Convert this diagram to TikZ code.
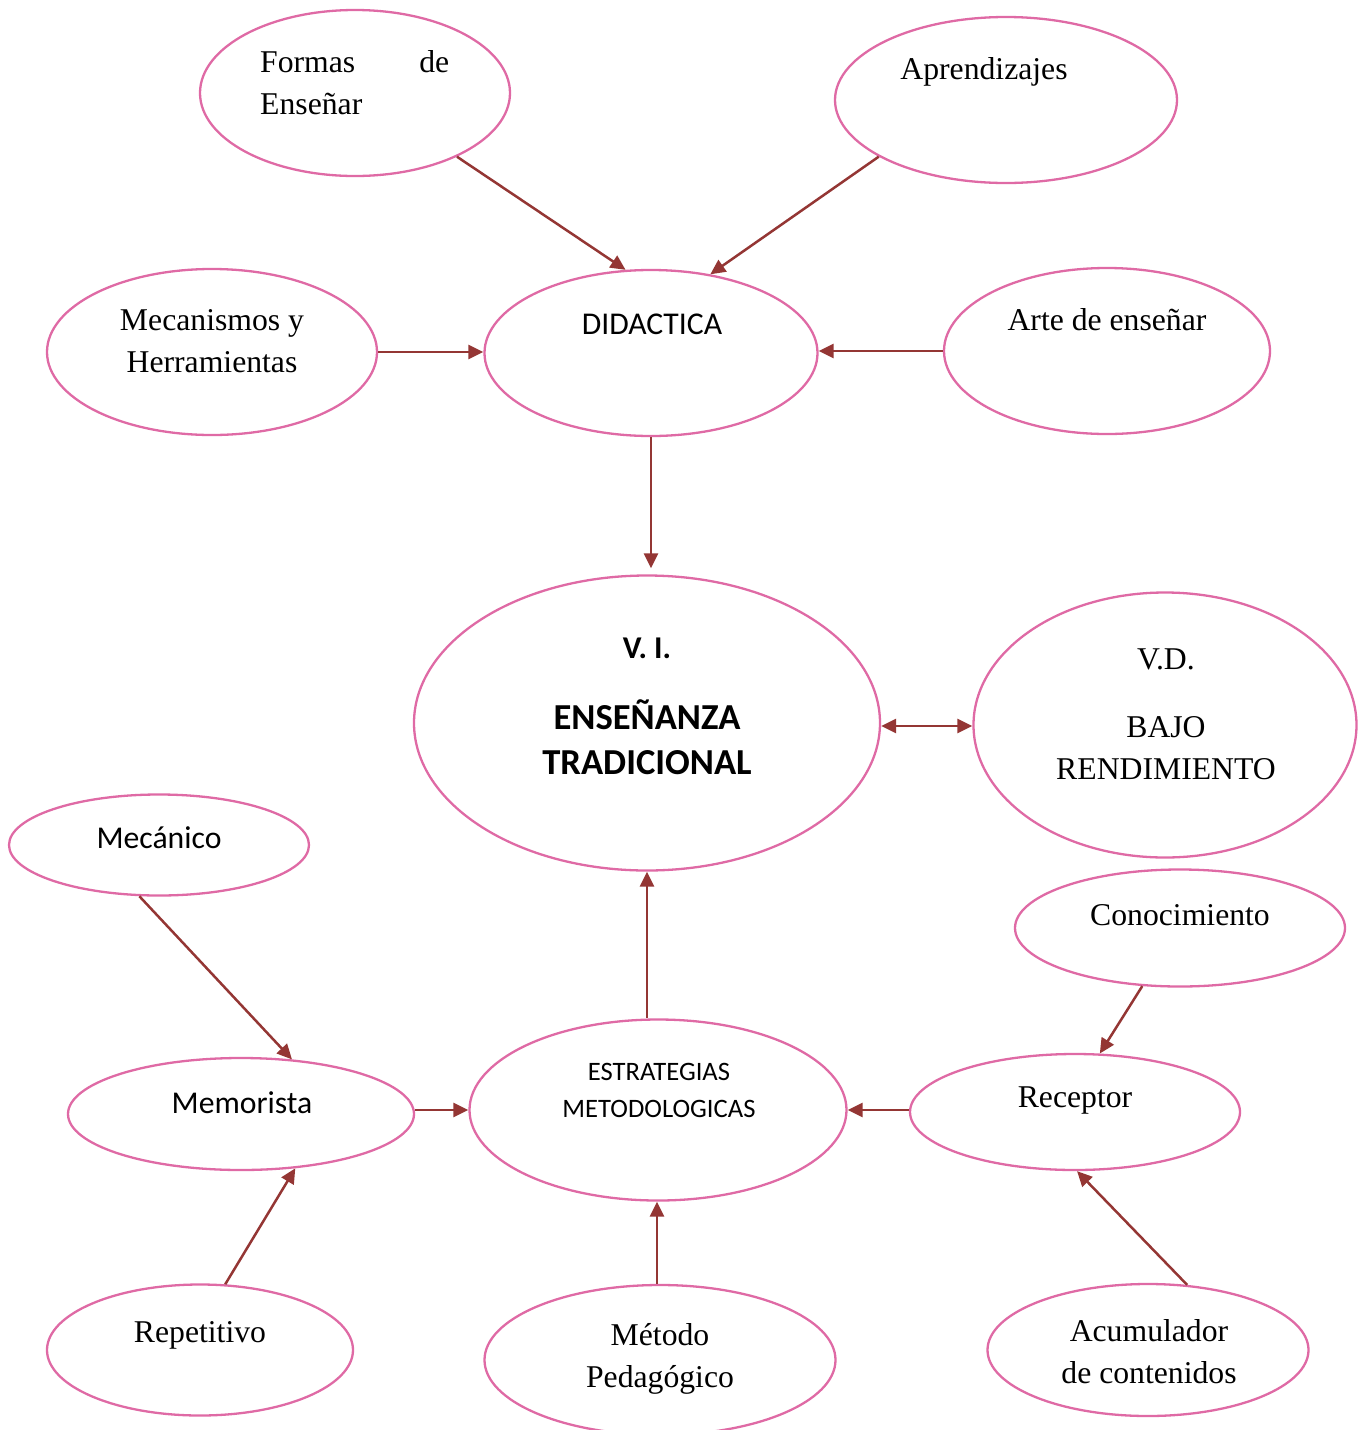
\documentclass[tikz,border=0pt]{standalone}
\usepackage{fontspec}
\setmainfont{Liberation Serif}
\newfontfamily\calfont{Carlito}
\usetikzlibrary{shapes.geometric,arrows.meta}
\definecolor{pinkline}{HTML}{DF6AA5}
\definecolor{arrowred}{HTML}{943634}
\begin{document}
\begin{tikzpicture}[x=1pt,y=-1pt,
  bub/.style={ellipse,draw=pinkline,line width=2.3pt,inner sep=0pt},
  con/.style={draw=arrowred,line width=2.5pt,-{Triangle[length=15pt,width=14pt]}},
  tx/.style={font=\fontsize{31.7}{42}\selectfont,align=center,inner sep=0pt},
  cx/.style={font=\calfont\fontsize{31.7}{42}\selectfont,align=center,inner sep=0pt}]
\useasboundingbox (0,0) rectangle (1368,1430);
\clip (0,0) rectangle (1368,1430);
% ellipses
\node[bub,minimum width=310pt,minimum height=166pt] (formas) at (355,93) {};
\node[bub,minimum width=342pt,minimum height=166pt] (aprend) at (1006,100) {};
\node[bub,minimum width=330pt,minimum height=166pt] (mecan) at (212,352) {};
\node[bub,minimum width=333pt,minimum height=166pt] (didac) at (651,353) {};
\node[bub,minimum width=326pt,minimum height=166pt] (arte) at (1107,351) {};
\node[bub,minimum width=466pt,minimum height=295pt] (vi) at (647,723) {};
\node[bub,minimum width=383pt,minimum height=265pt] (vd) at (1165,725) {};
\node[bub,minimum width=300pt,minimum height=101pt] (mecanico) at (159,845) {};
\node[bub,minimum width=330pt,minimum height=117pt] (conoc) at (1180,928) {};
\node[bub,minimum width=346pt,minimum height=112pt] (memor) at (241,1114) {};
\node[bub,minimum width=377pt,minimum height=181pt] (estrat) at (658,1110) {};
\node[bub,minimum width=330pt,minimum height=116pt] (recep) at (1075,1112) {};
\node[bub,minimum width=306pt,minimum height=131pt] (repet) at (200,1350) {};
\node[bub,minimum width=351pt,minimum height=150pt] (metodo) at (660,1360) {};
\node[bub,minimum width=321pt,minimum height=132pt] (acum) at (1148,1350) {};
% texts
\node[tx,align=left,anchor=north west] (formas-t) at (260,50) {\makebox[189pt][s]{Formas\hfill de}\\Enseñar};
\node[tx] (aprend-t) at (984,72) {Aprendizajes};
\node[tx] (mecan-t) at (212,341) {Mecanismos y\\Herramientas};
\node[cx] (didac-t) at (652,324) {DIDACTICA};
\node[tx] (arte-t) at (1107,320) {Arte de enseñar};
\node[cx,font=\calfont\bfseries\fontsize{31.7}{42}\selectfont] (vi-t1) at (647,648) {V. I.};
\node[cx,font=\calfont\bfseries\fontsize{36.6}{45}\selectfont] (vi-t2) at (647,737) {ENSEÑANZA\\TRADICIONAL};
\node[tx] (vd-t1) at (1166,659) {V.D.};
\node[tx] (vd-t2) at (1166,748) {BAJO\\RENDIMIENTO};
\node[cx] (mecanico-t) at (159,838) {Mecánico};
\node[tx] (conoc-t) at (1180,915) {Conocimiento};
\node[cx] (memor-t) at (242,1103) {Memorista};
\node[cx,font=\calfont\fontsize{26.6}{37}\selectfont] (estrat-t) at (659,1090) {ESTRATEGIAS\\METODOLOGICAS};
\node[tx] (recep-t) at (1075,1100) {Receptor};
\node[tx] (repet-t) at (200,1335) {Repetitivo};
\node[tx] (metodo-t) at (660,1359) {Método\\Pedagógico};
\node[tx] (acum-t) at (1149,1352) {Acumulador\\de contenidos};
% connectors
\draw[con] (formas.-32.6) -- (didac.107);
\draw[con] (aprend.204.4) -- (didac.53);
\draw[con] (mecan.east) -- (mecan.east -| didac.west);
\draw[con] (arte.west) -- (arte.west -| didac.east);
\draw[con] (didac.south) -- ([yshift=6pt]didac.south |- vi.north);
\draw[con,{Triangle[length=15pt,width=14pt]}-{Triangle[length=15pt,width=14pt]}] ([yshift=-3pt]vi.east) -- ([yshift=-3pt]vi.east -| vd.west);
\draw[con] (vi.south |- estrat.north) -- (vi.south);
\draw[con] (mecanico.-111.6) -- (memor.47);
\draw[con] (estrat.west -| memor.east) -- (estrat.west);
\draw[con] (repet.69) -- (memor.-45.5);
\draw[con] ([xshift=-3pt]metodo.north) -- ([xshift=-3pt]metodo.north |- estrat.south);
\draw[con] (estrat.east -| recep.west) -- (estrat.east);
\draw[con] (conoc.-123) -- (recep.67);
\draw[con] (acum.59) -- (recep.-88);
\end{tikzpicture}
\end{document}
